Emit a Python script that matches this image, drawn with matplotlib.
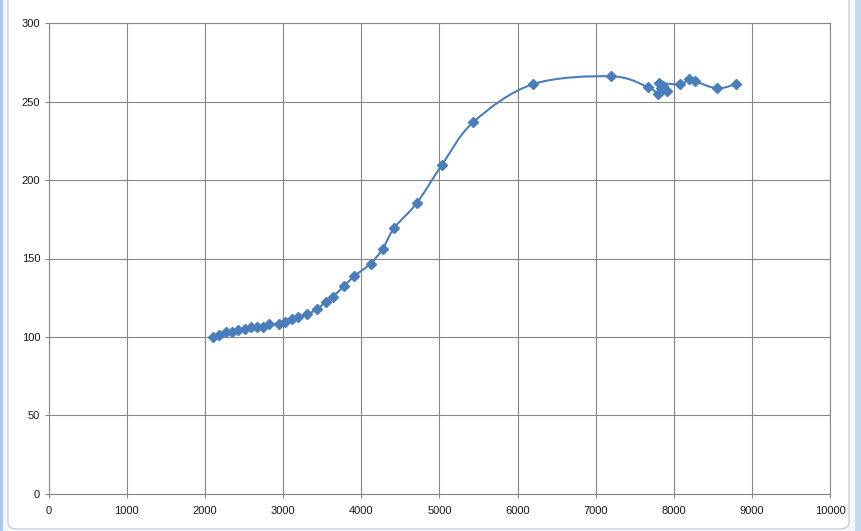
import numpy as np
import matplotlib
matplotlib.use("Agg")
import matplotlib.pyplot as plt
from matplotlib.path import Path
from matplotlib.patches import PathPatch, FancyBboxPatch, Rectangle

# ---- data ----
x_values = [2100, 2185, 2267, 2343, 2428, 2513, 2590, 2667, 2748, 2824,
            2952, 3029, 3111, 3188, 3307, 3431, 3546, 3635, 3780, 3908,
            4120, 4275, 4423, 4710, 5029, 5434, 6193, 7195, 7672, 7800,
            7907, 7856, 7831, 7813, 8077, 8197, 8273, 8555, 8794]
y_values = [100.0, 101.5, 103.2, 103.3, 104.7, 104.9, 106.2, 106.3, 106.3, 108.1,
            108.1, 109.6, 111.3, 112.8, 114.5, 117.5, 122.4, 125.6, 132.4, 138.6,
            146.8, 156.2, 169.6, 185.3, 209.4, 237.0, 261.1, 266.2, 259.2, 254.7,
            256.8, 260.2, 258.5, 261.7, 261.1, 264.5, 263.0, 258.5, 261.3]
x_ticks = [0, 1000, 2000, 3000, 4000, 5000, 6000, 7000, 8000, 9000, 10000]
y_ticks = [0, 50, 100, 150, 200, 250, 300]

series_color = "#4A7EBB"
grid_color = "#868686"

W, H = 861, 531
fig = plt.figure(figsize=(W / 100, H / 100), dpi=100)
fig.patch.set_facecolor("#f4f8fc")

# window-like frame decoration (behind the axes)
fig.patches.append(Rectangle((0, 0), 3 / W, 1, transform=fig.transFigure,
                             facecolor="#a9c8ea", edgecolor="none", zorder=-3))
fig.patches.append(Rectangle((855 / W, 0), 6 / W, 1, transform=fig.transFigure,
                             facecolor="#c4daf0", edgecolor="none", zorder=-3))
fig.patches.append(FancyBboxPatch((8 / W, 2 / H), 841 / W, 540 / H,
                                  boxstyle="round,pad=0,rounding_size=0.012",
                                  transform=fig.transFigure, facecolor="white",
                                  edgecolor="#c0c6ce", lw=0.8, zorder=-2))

ax = fig.add_axes([48.5 / W, 1 - 493.7 / H, (830.3 - 48.5) / W, (493.7 - 23.3) / H])
ax.set_zorder(1)
ax.set_facecolor("white")
ax.set_xlim(x_ticks[0], x_ticks[-1])
ax.set_ylim(y_ticks[0], y_ticks[-1])
ax.set_xticks(x_ticks)
ax.set_yticks(y_ticks)
ax.set_xticklabels([str(t) for t in x_ticks])
ax.set_yticklabels([str(t) for t in y_ticks])
ax.grid(True, color=grid_color, linewidth=0.8)
ax.set_axisbelow(True)
for s in ax.spines.values():
    s.set_color(grid_color)
    s.set_linewidth(0.8)
ax.tick_params(axis="both", direction="out", length=3, width=0.8,
               color=grid_color, labelsize=8, labelcolor="#1a1a1a")
ax.tick_params(axis="x", pad=6)
ax.tick_params(axis="y", pad=3)
for lbl in ax.get_xticklabels() + ax.get_yticklabels():
    lbl.set_fontfamily("Liberation Sans")

# smoothed line (Excel-style Bezier through the points)
pts = np.column_stack([x_values, y_values]).astype(float)
n = len(pts)
verts = [pts[0]]
codes = [Path.MOVETO]
for i in range(n - 1):
    p0 = pts[max(i - 1, 0)]
    p1 = pts[i]
    p2 = pts[i + 1]
    p3 = pts[min(i + 2, n - 1)]
    c1 = p1 + (p2 - p0) / 6.0
    c2 = p2 - (p3 - p1) / 6.0
    verts += [c1, c2, p2]
    codes += [Path.CURVE4] * 3
ax.add_patch(PathPatch(Path(verts, codes), fill=False, edgecolor=series_color,
                       linewidth=1.5, zorder=3))
ax.plot(x_values, y_values, linestyle="none", marker="D", markersize=4.6,
        color=series_color, zorder=4)

fig.savefig("out.png", dpi=100)
